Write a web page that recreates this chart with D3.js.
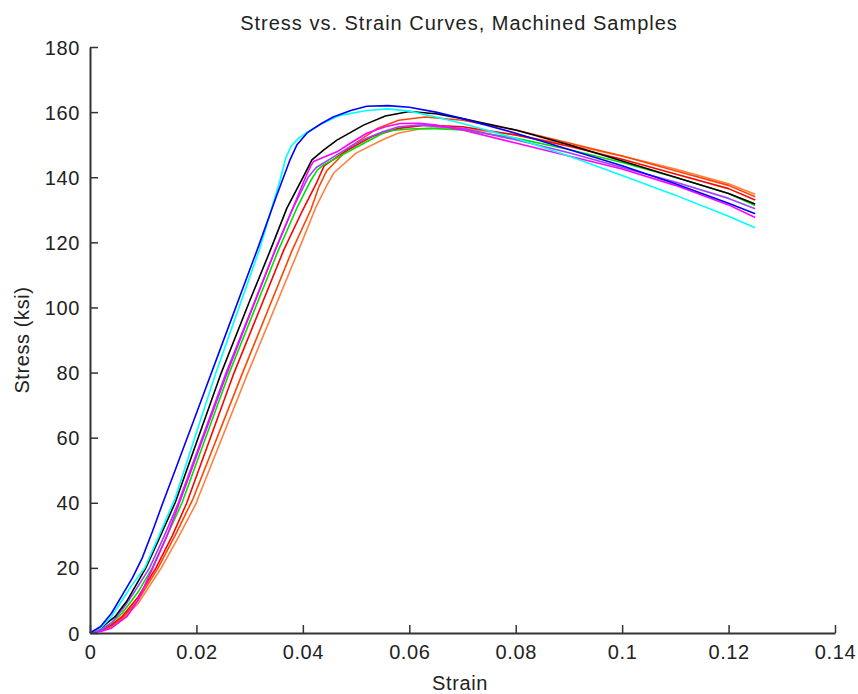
<!DOCTYPE html>
<html>
<head>
<meta charset="utf-8">
<script src="https://cdn.jsdelivr.net/npm/d3@7"></script>
<style>
  html, body { margin: 0; padding: 0; background: #fff; }
  svg { display: block; }
  text { font-family: "Liberation Sans", Arial, sans-serif; fill: #222; }
</style>
</head>
<body>
<svg id="chart" width="858" height="694"></svg>
<script>
// ---- data (strain, stress in ksi) ----
const title = "Stress vs. Strain Curves, Machined Samples";
const xLabel = "Strain";
const yLabel = "Stress (ksi)";
const xTicks = [0, 0.02, 0.04, 0.06, 0.08, 0.1, 0.12, 0.14];
const yTicks = [0, 20, 40, 60, 80, 100, 120, 140, 160, 180];

const orange = [[0,0],[0.002,0.7],[0.004,2],[0.006,4],[0.009,9],[0.0134,20],[0.0168,30],[0.02,40],[0.0203,41.4],[0.0295,79.2],[0.0392,117.6],[0.0425,131],[0.0445,137.5],[0.0458,141.3],[0.05,147.4],[0.055,151.5],[0.058,153.6],[0.062,154.8],[0.066,155.2],[0.07,155],[0.08,153],[0.09,150],[0.1,146.5],[0.11,142.5],[0.12,138],[0.125,134.8]];
const orangered = [[0,0],[0.002,0.8],[0.004,2.2],[0.006,4.5],[0.009,10],[0.0128,20],[0.016,30],[0.019,40],[0.0194,41.4],[0.0285,79.2],[0.038,117.6],[0.0415,130],[0.043,137],[0.0445,142],[0.049,149.5],[0.054,155],[0.058,157.5],[0.063,158.5],[0.07,157.5],[0.08,154.5],[0.09,150.5],[0.1,146.5],[0.11,142],[0.12,137.5],[0.125,134]];
const red = [[0,0],[0.002,0.8],[0.004,2.5],[0.006,5],[0.009,11],[0.0124,20],[0.0155,30],[0.0182,40],[0.0185,41.4],[0.0269,79.2],[0.0364,117.6],[0.04,130],[0.0425,138],[0.0433,141],[0.044,143.5],[0.048,148],[0.053,152.5],[0.058,155],[0.063,156],[0.07,155.5],[0.08,153],[0.09,149.5],[0.1,145.5],[0.11,141],[0.12,136.5],[0.125,133]];
const green = [[0,0],[0.002,1],[0.004,3],[0.006,6],[0.009,12.5],[0.0117,20],[0.0145,30],[0.0173,40],[0.0176,41.4],[0.026,79.2],[0.0354,117.6],[0.039,131],[0.0415,139],[0.0427,142.2],[0.0439,143.8],[0.047,146.5],[0.052,150.9],[0.0558,154.2],[0.06,154.8],[0.064,155],[0.07,154.5],[0.08,152],[0.09,148.5],[0.1,144.5],[0.11,140],[0.12,135],[0.125,131.3]];
const purple = [[0,0],[0.002,1],[0.004,3],[0.006,7],[0.0085,13],[0.0112,20],[0.014,30],[0.0166,40],[0.0254,79.2],[0.0348,117.6],[0.038,130],[0.041,140],[0.0425,143],[0.046,146.5],[0.049,149.5],[0.052,152],[0.055,154],[0.058,155.5],[0.062,156],[0.07,155],[0.08,151.5],[0.09,147.5],[0.1,143],[0.11,138.5],[0.12,133.5],[0.125,130.3]];
const magenta = [[0,0],[0.002,0.5],[0.004,1.5],[0.0069,5],[0.009,10],[0.0118,20],[0.0145,30],[0.0168,40],[0.0256,79.2],[0.0348,117.6],[0.038,130],[0.0405,140],[0.0414,143.2],[0.042,144.8],[0.0464,147.8],[0.049,150.5],[0.052,153.5],[0.0555,155.5],[0.0583,156.5],[0.062,156.6],[0.065,156],[0.07,154.5],[0.08,150.5],[0.09,146.5],[0.1,142.5],[0.11,137.5],[0.12,131.5],[0.125,127.6]];
const black = [[0,0],[0.002,1.5],[0.0047,5],[0.007,10],[0.0105,20],[0.013,29],[0.016,40],[0.0163,41.4],[0.0245,79.2],[0.03,102],[0.0339,117.6],[0.037,130.5],[0.0401,140.2],[0.0417,145.3],[0.044,148.5],[0.0464,151.4],[0.0514,156],[0.0555,158.8],[0.06,160.2],[0.065,159.5],[0.07,158],[0.08,154.5],[0.09,150],[0.1,145],[0.11,140],[0.12,135],[0.125,131.8]];
const cyan = [[0,0],[0.002,1.5],[0.004,5],[0.006,10],[0.008,15],[0.0103,20],[0.013,30],[0.016,41.4],[0.0235,79.2],[0.0318,117.6],[0.0357,139],[0.0368,146],[0.0378,149.5],[0.0392,152],[0.041,154],[0.043,156],[0.047,159],[0.052,160.5],[0.056,161],[0.06,160.3],[0.065,158.5],[0.07,156.5],[0.08,152],[0.09,146.5],[0.1,140.5],[0.11,134.5],[0.12,128],[0.125,124.5]];
const blue = [[0,0],[0.002,2],[0.004,6],[0.006,11.5],[0.008,17],[0.0098,23],[0.0118,31.5],[0.0138,40.5],[0.016,50],[0.02,67.5],[0.025,89.5],[0.03,111.5],[0.0314,117.6],[0.035,134],[0.0375,145],[0.0389,150],[0.0408,153.6],[0.0435,156.5],[0.0457,158.5],[0.049,160.5],[0.052,161.8],[0.056,162],[0.06,161.5],[0.065,160],[0.07,158],[0.08,153.5],[0.09,148.5],[0.1,143.5],[0.11,138],[0.12,132],[0.125,128.8]];

const seriesList = [
  { values: orange,    color: "#ff8040" },
  { values: orangered, color: "#ff4500" },
  { values: red,       color: "#ff0000" },
  { values: green,     color: "#00e000" },
  { values: purple,    color: "#a040ff" },
  { values: magenta,   color: "#ff00ff" },
  { values: black,     color: "#000000" },
  { values: cyan,      color: "#00ffff" },
  { values: blue,      color: "#0000ff" }
];

// ---- layout ----
const svg = d3.select("#chart");
const plotLeft = 90, plotRight = 835, plotTop = 47, plotBottom = 633;
const x = d3.scaleLinear().domain([0, 0.14]).range([plotLeft, plotRight]);
const y = d3.scaleLinear().domain([0, 180]).range([plotBottom, plotTop]);

const line = d3.line().x(d => x(d[0])).y(d => y(d[1]));

svg.append("g").selectAll("path")
  .data(seriesList)
  .join("path")
  .attr("d", d => line(d.values))
  .attr("fill", "none")
  .attr("stroke", d => d.color)
  .attr("stroke-width", 1.6)
  .attr("stroke-linejoin", "round");

// axes
const fmtX = d => d === 0 ? "0" : String(+d.toFixed(2));
const xAxis = d3.axisBottom(x).tickValues(xTicks).tickSize(-8).tickSizeOuter(0).tickPadding(12).tickFormat(fmtX);
const yAxis = d3.axisLeft(y).tickValues(yTicks).tickSize(-8).tickSizeOuter(0).tickPadding(10).tickFormat(d3.format("d"));

const gx = svg.append("g").attr("transform", `translate(0,${plotBottom})`).call(xAxis);
const gy = svg.append("g").attr("transform", `translate(${plotLeft},0)`).call(yAxis);

[gx, gy].forEach(g => {
  g.select(".domain").attr("stroke", "#333").attr("stroke-width", 2);
  g.selectAll(".tick line").attr("stroke", "#333").attr("stroke-width", 1.5);
  g.selectAll(".tick text")
    .attr("fill", "#222")
    .style("font-family", "'Liberation Sans', Arial, sans-serif")
    .style("font-size", "20px")
    .style("letter-spacing", "0.6px");
});
gx.selectAll(".tick text").attr("dy", "0.71em");
gy.selectAll(".tick text").attr("dy", "0.35em");

// title and labels
svg.append("text")
  .attr("x", 459).attr("y", 30)
  .attr("text-anchor", "middle")
  .style("font-size", "20px")
  .style("letter-spacing", "1px")
  .text(title);

svg.append("text")
  .attr("x", 460).attr("y", 690)
  .attr("text-anchor", "middle")
  .style("font-size", "20px")
  .style("letter-spacing", "0.6px")
  .text(xLabel);

svg.append("text")
  .attr("transform", `translate(29,340) rotate(-90)`)
  .attr("text-anchor", "middle")
  .style("font-size", "20px")
  .style("letter-spacing", "0.6px")
  .text(yLabel);
</script>
</body>
</html>
